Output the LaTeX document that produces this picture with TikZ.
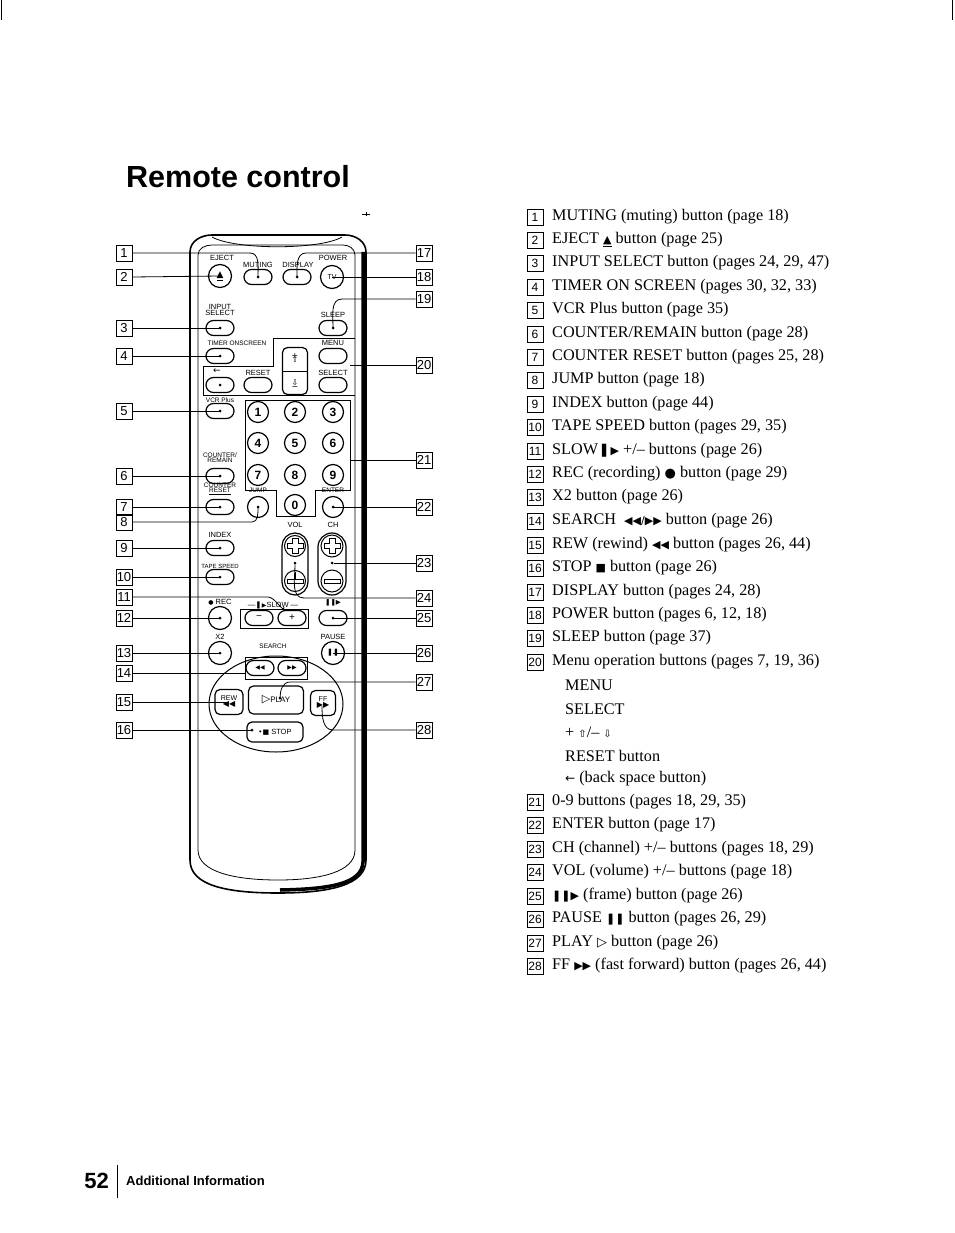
\documentclass[tikz,border=0pt]{standalone}
\usepackage{fontspec}
\setmainfont{Liberation Serif}
\newfontfamily\ls{Liberation Sans}
\newfontfamily\djv{DejaVu Sans}
\usetikzlibrary{shapes.misc,shapes.geometric}
\tikzset{
 rb/.style={draw,rounded rectangle,minimum width=28,minimum height=15,inner sep=0,line width=1.2},
 cb/.style={draw,circle,minimum size=23,inner sep=0,line width=1.2,font=\ls\fontsize{12}{12}\bfseries\selectfont},
 db/.style={cb,minimum size=21},
 lb/.style={font=\ls\fontsize{7.5}{7.5}\selectfont,inner sep=0,align=center},
 cbox/.style={draw,minimum size=16,inner sep=0,font=\ls\fontsize{13}{13}\selectfont,line width=0.8},
 ld/.style={line width=0.8},
 dt/.style={fill,circle,inner sep=0,minimum size=3},
 it/.style={anchor=west,inner sep=0,font=\fontsize{16.2}{18}\selectfont},
 ib/.style={draw,minimum size=16,inner sep=0,font=\ls\fontsize{12}{12}\selectfont,line width=0.7},
 pb/.style={draw,rounded corners=5,line width=1.2}
}
\begin{document}
\begin{tikzpicture}[x=1pt,y=-1pt]
\useasboundingbox (0,0) rectangle (954,1233);
\draw[line width=1] (1,0) -- (1,20) (952,0) -- (952,20);
\node[anchor=base west,inner sep=0,font=\ls\bfseries\fontsize{30.5}{31}\selectfont] (title) at (126,188) {Remote control};
% body
\draw[line width=1.6] (190,860) -- (190,252) to[out=90,in=180] (212,235) -- (345,235) to[out=0,in=90] (366,252) -- (366,860) .. controls (366,885) and (330,893) .. (278,893) .. controls (225,893) and (190,885) .. (190,860);
\draw[line width=3.5] (363,252) -- (363,862) .. controls (362,884) and (330,889) .. (280,890);
\draw[line width=0.8] (198,255) to[out=90,in=180] (212,245) -- (343,245) to[out=0,in=90] (355,255) -- (355,850) .. controls (355,872) and (320,880) .. (278,880) .. controls (235,880) and (198,872) .. (198,850) -- cycle;
\draw[line width=0.8] (212,237) .. controls (235,250) and (320,250) .. (342,237);
\draw[line width=0.6] (362,214) -- (370,214) (366,212) -- (366,216);
% top buttons
\node[lb] (ejl) at (222,258) {EJECT};
\node[cb] (ej) at (220,276) {\djv\fontsize{9}{9}\selectfont\underline{▲}};
\node[lb] (mul) at (258,265) {MUTING};
\node[rb] (mu) at (258,277) {}; \node[dt] at (mu.center) {};
\node[lb] (dil) at (298,265) {DISPLAY};
\node[rb] (di) at (297,277) {}; \node[dt] at (di.center) {};
\node[lb] (pol) at (333,258) {POWER};
\node[cb,font=\ls\fontsize{7}{7}\selectfont] (po) at (332,277) {TV};
\node[lb] (isl) at (220,310) {INPUT\\[-1.5pt]SELECT};
\node[rb] (is) at (220,328) {}; \node[dt] at (is.center) {};
\node[lb] (sll) at (333,315) {SLEEP};
\node[rb] (sl) at (333,328) {}; \node[dt] at (sl.center) {};
% menu panel
\draw[line width=0.8] (273,338) -- (355,338) (273,338) -- (273,366) -- (203,366) -- (203,395) -- (355,395);
\node[lb,font=\ls\fontsize{6.5}{6.5}\selectfont] (tml) at (237,343) {TIMER ONSCREEN};
\node[rb] (tm) at (220,356) {}; \node[dt] at (tm.center) {};
\node[lb] (mnl) at (333,343) {MENU};
\node[rb] (mn) at (333,356) {};
\node[pb,minimum width=25,minimum height=47,inner sep=0] (rk) at (295,371) {};
\draw[line width=0.8] (rk.west) -- (rk.east);
\node[font=\djv\fontsize{8}{8}\selectfont,align=center,inner sep=0] (rkp) at (295,358) {+\\[-4pt]⇧};
\node[font=\djv\fontsize{8}{8}\selectfont,align=center,inner sep=0] (rkm) at (295,385) {⇩\\[-4pt]−};
\node[lb,font=\djv\fontsize{9}{9}\selectfont] (bsl) at (217,371) {←};
\node[lb] (rsl) at (258,373) {RESET};
\node[lb] (sel) at (333,373) {SELECT};
\node[rb] (bs) at (220,385) {}; \node[dt] at (bs.center) {};
\node[rb] (rs) at (258,385) {};
\node[rb] (se) at (333,385) {};
\node[lb,font=\ls\fontsize{6.5}{6.5}\selectfont] (vcl) at (220,400) {VCR Plus};
\node[rb] (vc) at (220,411) {}; \node[dt] at (vc.center) {};
% number panel
\draw[line width=0.8] (245,400) -- (350,400) -- (350,490) -- (315,490) -- (315,516) -- (276,516) -- (276,490) -- (245,490) -- cycle;
\node[db] (n1) at (258,412) {1}; \node[db] (n2) at (295,412) {2}; \node[db] (n3) at (333,412) {3};
\node[db] (n4) at (258,443) {4}; \node[db] (n5) at (295,443) {5}; \node[db] (n6) at (333,443) {6};
\node[db] (n7) at (258,475) {7}; \node[db] (n8) at (295,475) {8}; \node[db] (n9) at (333,475) {9};
\node[db] (n0) at (295,505) {0};
\node[lb,font=\ls\fontsize{6.5}{6.5}\selectfont] (crl) at (220,458) {COUNTER/\\[-1.5pt]REMAIN};
\node[rb] (cr) at (220,476) {}; \node[dt] at (cr.center) {};
\node[lb,font=\ls\fontsize{6.5}{6.5}\selectfont] (ctl) at (220,489) {COUNTER\\[-1.5pt]\underline{RESET}};
\node[rb] (ct) at (220,507) {}; \node[dt] at (ct.center) {};
\node[lb,font=\ls\fontsize{6.5}{6.5}\selectfont] (jpl) at (258,490) {JUMP};
\node[db] (jp) at (258,507) {}; \node[dt] at (jp.center) {};
\node[lb,font=\ls\fontsize{6.5}{6.5}\selectfont] (enl) at (333,490) {ENTER};
\node[db] (en) at (333,507) {}; \node[dt] at (en.center) {};
% vol ch
\node[lb] (vol) at (295,525) {VOL};
\node[lb] (chl) at (333,525) {CH};
\node[draw,rounded rectangle,rotate=90,minimum width=62,minimum height=26,inner sep=0,line width=1.2] (vl) at (295,564) {};
\node[draw,rounded rectangle,rotate=90,minimum width=62,minimum height=28,inner sep=0,line width=1.2] (ch) at (332,564) {};
\node[draw,circle,minimum size=21,inner sep=0,line width=1] (vp) at (295,546) {};
\node[draw,circle,minimum size=21,inner sep=0,line width=1] (vm) at (295,581) {};
\node[draw,circle,minimum size=22,inner sep=0,line width=1] (cp) at (332,546) {};
\node[draw,circle,minimum size=22,inner sep=0,line width=1] (cm) at (332,581) {};
\node[dt] (vdot) at (295,563) {};
\node[dt] (cdot) at (332,563) {};
\draw[line width=1] (292,538) -- (292,543) -- (287,543) -- (287,548) -- (292,548) -- (292,553) -- (298,553) -- (298,548) -- (303,548) -- (303,543) -- (298,543) -- (298,538) -- cycle;
\draw[line width=1] (329,538) -- (329,543) -- (324,543) -- (324,548) -- (329,548) -- (329,553) -- (335,553) -- (335,548) -- (340,548) -- (340,543) -- (335,543) -- (335,538) -- cycle;
\draw[line width=1] (287,579) -- (303,579) -- (303,583) -- (287,583) -- cycle (295,579) -- (295,572);
\draw[line width=1] (324,579) -- (340,579) -- (340,583) -- (324,583) -- cycle;
\node[lb] (inl) at (220,535) {INDEX};
\node[rb] (in) at (220,548) {}; \node[dt] at (in.center) {};
\node[lb,font=\ls\fontsize{6}{6}\selectfont] (tsl) at (220,566) {TAPE SPEED};
\node[rb] (ts) at (220,577) {}; \node[dt] at (ts.center) {};
% rec / slow
\node[lb] (rcl) at (220,602) {{\djv\fontsize{6}{6}\selectfont●}\ REC};
\node[cb] (rc) at (220,618) {}; \node[dt] at (rc.center) {};
\node[lb] (swl) at (273,605) {— {\djv\fontsize{6}{6}\selectfont▌▶}SLOW —};
\draw[line width=0.8] (240,609) rectangle (308,628);
\node[rb,font=\ls\fontsize{10}{10}\selectfont] (sm) at (259,618) {−};
\node[rb,font=\ls\fontsize{10}{10}\selectfont] (sp) at (292,618) {+};
\node[lb,font=\djv\fontsize{6.5}{6.5}\selectfont] (frl) at (333,603) {❚❚▶};
\node[rb] (fr) at (333,618) {}; \node[dt] at (fr.center) {};
\node[lb] (x2l) at (220,637) {X2};
\node[cb] (x2) at (220,653) {}; \node[dt] at (x2.center) {};
\node[lb,font=\ls\fontsize{6.5}{6.5}\selectfont] (srl) at (273,646) {SEARCH};
\node[lb] (pal) at (333,637) {PAUSE};
\node[cb,font=\djv\fontsize{7}{7}\bfseries\selectfont] (pa) at (333,653) {❚❚};
% transport
\node[draw,ellipse,minimum width=134,minimum height=96,line width=1] (el) at (276,704) {};
\draw[line width=0.8] (245,657) rectangle (307,679);
\node[rb,font=\djv\fontsize{6}{6}\selectfont] (rw) at (260,668) {◀◀};
\node[rb,font=\djv\fontsize{6}{6}\selectfont] (ff) at (292,668) {▶▶};
\node[pb,fill=white,minimum width=28,minimum height=25,inner sep=0,align=center,font=\ls\fontsize{7}{7}\selectfont] (rew) at (229,702) {REW\\[-1pt]{\djv\fontsize{8}{8}\selectfont◀◀}};
\node[pb,fill=white,minimum width=55,minimum height=28,inner sep=0,font=\ls\fontsize{8}{8}\selectfont] (pl) at (276,700) {{\djv\fontsize{11}{11}\selectfont ▷}PLAY};
\node[pb,fill=white,minimum width=25,minimum height=25,inner sep=0,align=center,font=\ls\fontsize{7}{7}\selectfont] (fw) at (323,703) {FF\\[-1pt]{\djv\fontsize{8}{8}\selectfont▶▶}};
\node[pb,fill=white,minimum width=56,minimum height=20,inner sep=0,font=\ls\fontsize{7.5}{7.5}\selectfont] (st) at (275,732) {{\djv\fontsize{7}{7}\selectfont •■} STOP};
% callouts
\foreach \n/\yy in {1/253,2/277,3/328,4/356,5/411,6/476,7/507,8/522,9/548,10/577,11/597,12/618,13/653,14/673,15/702,16/730}{
 \node[cbox] (L\n) at (124,\yy) {\n};}
\foreach \n/\yy in {17/253,18/277,19/299,20/365,21/460,22/507,23/563,24/598,25/618,26/653,27/682,28/730}{
 \node[cbox] (R\n) at (424,\yy) {\n};}
\draw[ld] (L1.east) -- (250,253) to[out=0,in=90] (mu.center);
\draw[ld] (L2.east) -- (ej.center);
\draw[ld] (L3.east) -- (is.center);
\draw[ld] (L4.east) -- (tm.center);
\draw[ld] (L5.east) -- (vc.center);
\draw[ld] (L6.east) -- (cr.center);
\draw[ld] (L7.east) -- (ct.center);
\draw[ld] (L8.east) -- (252,522) to[out=0,in=-90] (jp.center);
\draw[ld] (L9.east) -- (in.center);
\draw[ld] (L10.east) -- (ts.center);
\draw[ld] (L11.east) -- (268,597) to[out=0,in=-90] (284,607);
\draw[ld] (L12.east) -- (rc.center);
\draw[ld] (L13.east) -- (x2.center);
\draw[ld] (L14.east) -- (245,673);
\draw[ld] (L15.east) -- (rew.center);
\draw[ld] (L16.east) -- (252,730);
\node[dt] at (252,730) {};
\draw[ld] (R17.west) -- (306,253) to[out=180,in=90] (di.center);
\draw[ld] (R18.west) -- (po.center);
\draw[ld] (R19.west) -- (342,299) to[out=180,in=90] (sl.center);
\draw[ld] (R20.west) -- (350,365);
\draw[ld] (R21.west) -- (350,460);
\draw[ld] (R22.west) -- (en.center);
\draw[ld] (R23.west) -- (cdot);
\draw[ld] (R24.west) -- (304,598) to[out=180,in=-90] (vdot);
\draw[ld] (R25.west) -- (fr.center);
\draw[ld] (R26.west) -- (pa.center);
\draw[ld] (R27.west) -- (290,682) to[out=180,in=90] (280,698);
\node[dt] at (280,698) {};
\draw[ld] (R28.west) -- (333,730) to[out=180,in=-90] (322,706);
% list
\foreach \n/\yy/\t in {
1/217/{MUTING (muting) button (page 18)},
2/240/{EJECT {\djv\fontsize{11}{11}\selectfont\underline{▲}} button (page 25)},
3/263/{INPUT SELECT button (pages 24, 29, 47)},
4/287/{TIMER ON SCREEN (pages 30, 32, 33)},
5/310/{VCR Plus button (page 35)},
6/334/{COUNTER/REMAIN button (page 28)},
7/357/{COUNTER RESET button (pages 25, 28)},
8/380/{JUMP button (page 18)},
9/404/{INDEX button (page 44)},
10/427/{TAPE SPEED button (pages 29, 35)},
11/451/{SLOW {\djv\fontsize{11}{11}\selectfont ▌▶} +/-- buttons (page 26)},
12/474/{REC (recording) {\djv\fontsize{13}{13}\selectfont●} button (page 29)},
13/497/{X2 button (page 26)},
14/521/{SEARCH \ {\djv\fontsize{11}{11}\selectfont◀◀/▶▶} button (page 26)},
15/545/{REW (rewind) {\djv\fontsize{11}{11}\selectfont◀◀} button (pages 26, 44)},
16/568/{STOP {\djv\fontsize{11}{11}\selectfont■} button (page 26)},
17/592/{DISPLAY button (pages 24, 28)},
18/615/{POWER button (pages 6, 12, 18)},
19/638/{SLEEP button (page 37)},
20/662/{Menu operation buttons (pages 7, 19, 36)},
21/802/{0-9 buttons (pages 18, 29, 35)},
22/825/{ENTER button (page 17)},
23/849/{CH (channel) +/-- buttons (pages 18, 29)},
24/872/{VOL (volume) +/-- buttons (page 18)},
25/896/{{\djv\fontsize{11}{11}\selectfont❚❚▶} (frame) button (page 26)},
26/919/{PAUSE {\djv\fontsize{11}{11}\selectfont❚❚} button (pages 26, 29)},
27/943/{PLAY {\djv\fontsize{13}{13}\selectfont▷} button (page 26)},
28/966/{FF {\djv\fontsize{11}{11}\selectfont▶▶} (fast forward) button (pages 26, 44)}}{
 \node[ib] (I\n) at (535,\yy) {\n};
 \node[it] (T\n) at (552,\yy) {\t};}
\node[it] (s1) at (565,685) {MENU};
\node[it] (s2) at (565,709) {SELECT};
\node[it] (s3) at (565,732) {+ {\djv\fontsize{10}{10}\selectfont⇧}/-- {\djv\fontsize{10}{10}\selectfont⇩}};
\node[it] (s4) at (565,756) {RESET button};
\node[it] (s5) at (565,779) {{\djv\fontsize{12}{12}\selectfont ←} (back space button)};
% footer
\node[anchor=base east,inner sep=0,font=\ls\bfseries\fontsize{22}{22}\selectfont] (pg) at (109,1188) {52};
\draw[line width=1] (117,1165) -- (117,1198);
\node[anchor=base west,inner sep=0,font=\ls\bfseries\fontsize{13}{13}\selectfont] (ft) at (126,1185) {Additional Information};
\end{tikzpicture}
\end{document}
